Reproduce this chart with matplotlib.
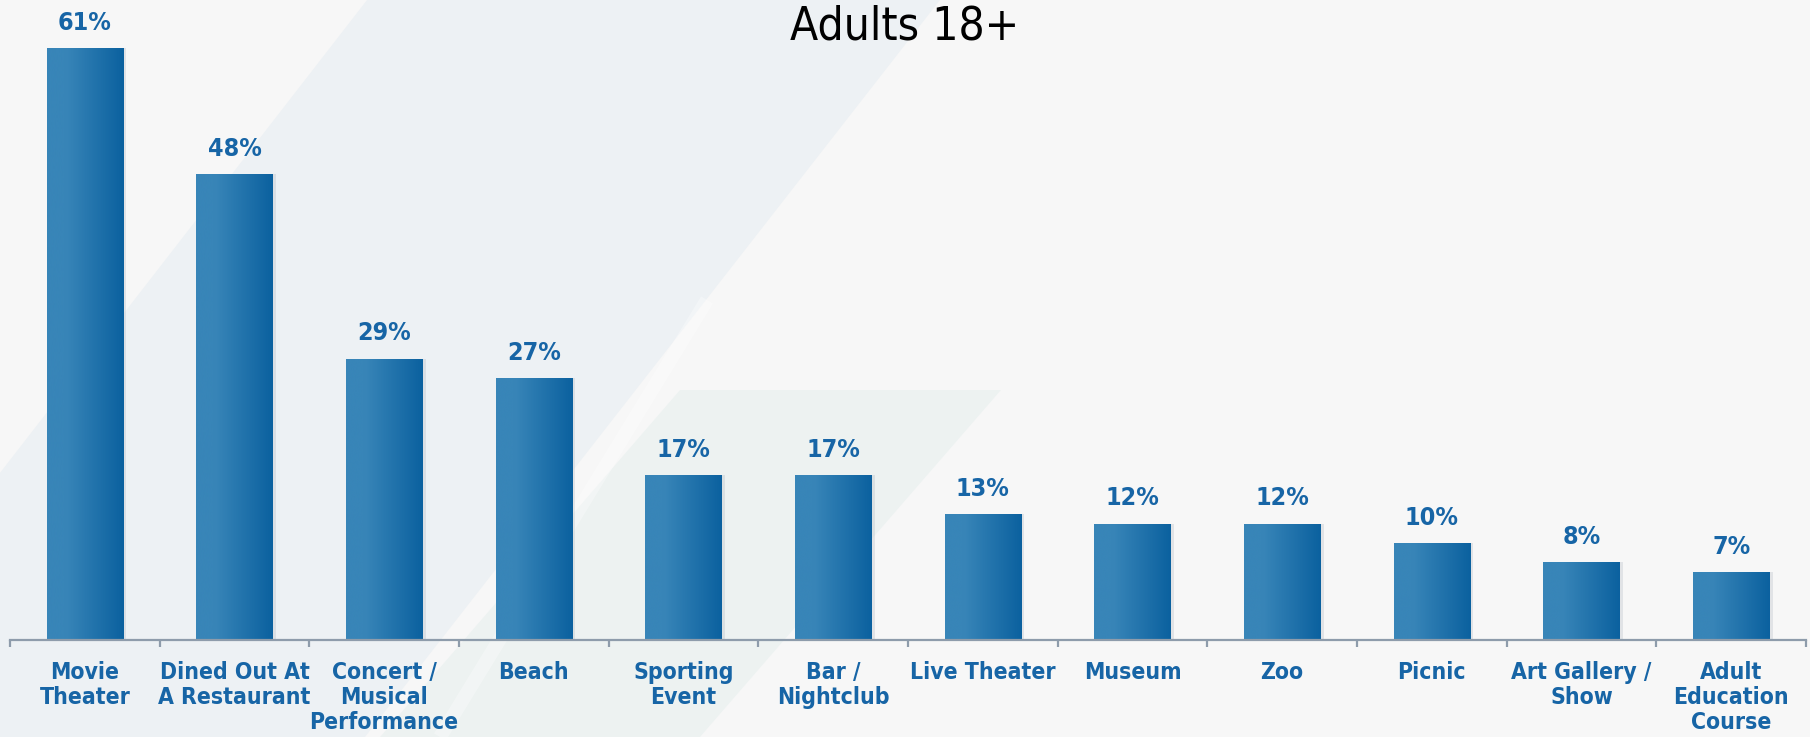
import numpy as np
import matplotlib
matplotlib.use("Agg")
import matplotlib.pyplot as plt
from matplotlib.patches import Polygon

# datos del grafico
categorias = ["Movie\nTheater", "Dined Out At\nA Restaurant", "Concert /\nMusical\nPerformance",
              "Beach", "Sporting\nEvent", "Bar /\nNightclub", "Live Theater", "Museum",
              "Zoo", "Picnic", "Art Gallery /\nShow", "Adult\nEducation\nCourse"]
valores = [61, 48, 29, 27, 17, 17, 13, 12, 12, 10, 8, 7]
titulo = "Adults 18+"

AZUL_TEXTO = "#1765a6"
AZUL_CLARO = "#3885b8"
AZUL_OSCURO = "#0b619f"
GRIS_EJE = "#8e9cab"
FUENTE = ["DejaVu Sans", "Noto Sans"]

W, H = 1810, 737


def fondo(fig):
  # formas diagonales del fondo, en pixeles de la figura (y hacia abajo)
  bg = fig.add_axes([0, 0, 1, 1], zorder=-10)
  bg.set_xlim(0, W)
  bg.set_ylim(H, 0)
  bg.axis("off")
  bg.add_patch(Polygon([(367, 0), (940, 0), (365, 737), (-205, 737)], closed=True,
                       facecolor="#edf1f4", edgecolor="none"))
  bg.add_patch(Polygon([(680, 390), (1001, 390), (700, 737), (380, 737)], closed=True,
                       facecolor="#ecf2f1", edgecolor="none", alpha=0.9))
  # brillo blanco suave a lo largo del borde
  bg.plot([707, 440], [300, 737], color="white", lw=10, alpha=0.3, solid_capstyle="butt")


def barras_degradado(ax, bars):
  grad = np.linspace(0, 1, 256).reshape(1, -1)
  cmap = matplotlib.colors.LinearSegmentedColormap.from_list(
    "azul", [(0, AZUL_CLARO), (0.25, AZUL_CLARO), (1, AZUL_OSCURO)])
  for b in bars:
    x0, y0 = b.get_x(), b.get_y()
    x1, y1 = x0 + b.get_width(), y0 + b.get_height()
    # sombra suave
    ax.bar(b.get_x() + b.get_width() / 2 + 0.012, b.get_height(), width=b.get_width() + 0.02,
           color="#b9c0c7", alpha=0.35, zorder=1)
    im = ax.imshow(grad, extent=(x0, x1, y0, y1), cmap=cmap, aspect="auto", zorder=2,
                   interpolation="bicubic")
    im.set_clip_path(b)
    b.set_alpha(0)


def main():
  fig = plt.figure(figsize=(W / 100, H / 100), dpi=100)
  fig.patch.set_facecolor("#f7f7f7")
  fondo(fig)

  ax = fig.add_axes([10 / W, 1 - 640 / H, 1796 / W, 640 / H])
  ax.set_facecolor("none")

  x = np.arange(len(valores))
  bars = ax.bar(x, valores, width=0.51, color=AZUL_CLARO, zorder=2)
  barras_degradado(ax, bars)

  ax.set_xlim(-0.5, len(valores) - 0.5)
  ax.set_ylim(0, 640 / 9.705)

  for xi, v in zip(x, valores):
    ax.annotate("{}%".format(v), (xi, v), xytext=(0, 9.5), textcoords="offset points",
                ha="center", va="bottom", fontsize=18, fontweight="bold",
                color=AZUL_TEXTO, family=FUENTE, fontstretch="condensed")

  for s in ["top", "right", "left"]:
    ax.spines[s].set_visible(False)
  ax.spines["bottom"].set_color(GRIS_EJE)
  ax.spines["bottom"].set_linewidth(1.6)
  ax.set_yticks([])
  ax.set_xticks(x)
  ax.set_xticklabels(categorias)
  ax.set_xticks(np.arange(len(valores) + 1) - 0.5, minor=True)
  ax.tick_params(axis="x", which="major", length=0, pad=15)
  ax.tick_params(axis="x", which="minor", length=5, width=1.6, color=GRIS_EJE)
  for t in ax.get_xticklabels():
    t.set_fontsize(16.5)
    t.set_fontweight("bold")
    t.set_color(AZUL_TEXTO)
    t.set_family(FUENTE)
    t.set_fontstretch("condensed")
    t.set_linespacing(1.12)
    t.set_va("top")

  fig.text(905 / W, 1 - 39 / H, titulo, ha="center", va="baseline", fontsize=33,
           color="black", family=FUENTE, fontstretch="condensed")

  fig.savefig("out.png", dpi=100, facecolor=fig.get_facecolor())


if __name__ == '__main__':
  main()
